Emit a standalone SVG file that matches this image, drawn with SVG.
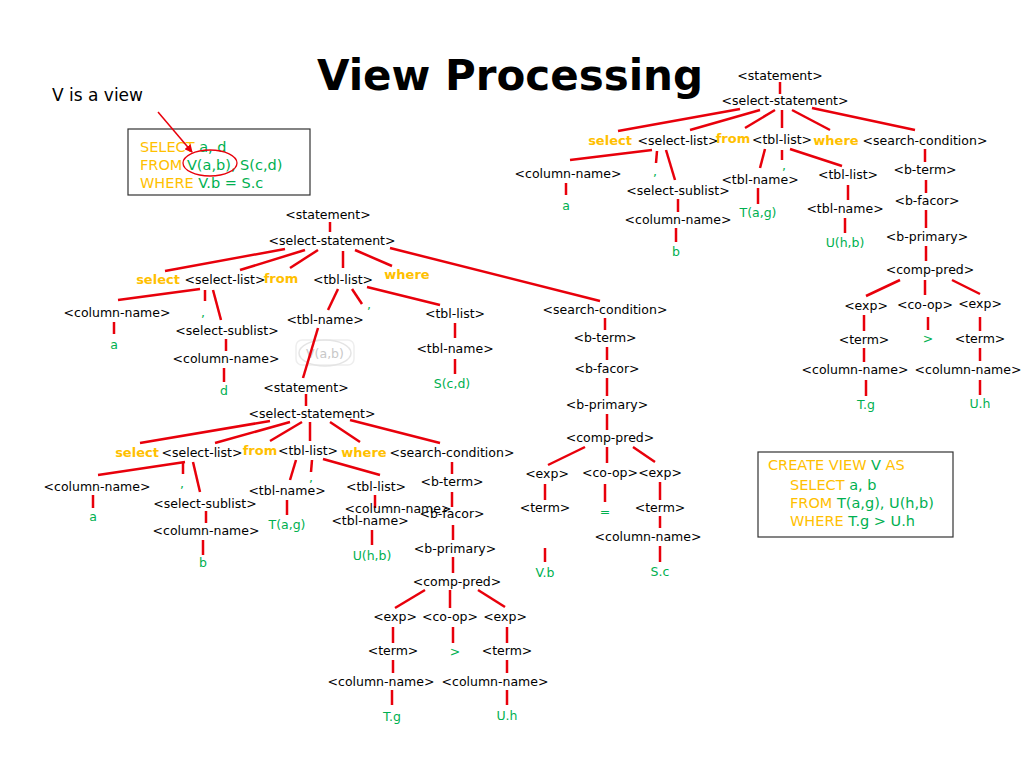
<svg xmlns="http://www.w3.org/2000/svg" width="1024" height="768" viewBox="0 0 1024 768">
<defs>
<style>
text{font-family:"DejaVu Sans","Liberation Sans",sans-serif;font-size:12.5px;fill:#000}
.n{text-anchor:middle}
.k{fill:#FFC000;font-weight:bold;font-size:13px}
.g{fill:#00B050}
.o{fill:#FFC000}
.c line{stroke:#e8000b;stroke-width:2.5}
.b{font-size:14.5px;font-family:"DejaVu Sans","Liberation Sans",sans-serif}
</style>
<marker id="ah" markerWidth="8" markerHeight="8" refX="7" refY="4" orient="auto" markerUnits="userSpaceOnUse"><path d="M0,0L8,4L0,8z" fill="#e8000b"/></marker>
</defs>
<rect width="1024" height="768" fill="#fff"/>
<text x="510" y="90" class="n" style="font-size:42px;font-weight:bold;font-family:'DejaVu Sans',sans-serif">View Processing</text>
<text x="52" y="101" style="font-size:17px;font-family:'DejaVu Sans',sans-serif">V is a view</text>
<g id="query1">
<rect x="128" y="129" width="182" height="66" fill="none" stroke="#333" stroke-width="1.2"/>
<text x="140" y="152" class="b"><tspan class="o">SELECT</tspan><tspan class="g"> a, d</tspan></text>
<text x="140" y="170" class="b"><tspan class="o">FROM </tspan><tspan class="g">V(a,b), S(c,d)</tspan></text>
<text x="140" y="188" class="b"><tspan class="o">WHERE </tspan><tspan class="g">V.b = S.c</tspan></text>
<ellipse cx="210" cy="163" rx="27" ry="13" fill="none" stroke="#e8000b" stroke-width="1.3"/>
<line x1="158" y1="112" x2="192" y2="152" stroke="#e8000b" stroke-width="1.5" marker-end="url(#ah)"/>
</g>
<g id="query2">
<rect x="758" y="452" width="195" height="85" fill="none" stroke="#333" stroke-width="1.2"/>
<text x="768" y="470" class="b"><tspan class="o">CREATE VIEW </tspan><tspan class="g">V</tspan><tspan class="o"> AS</tspan></text>
<text x="790" y="490" class="b"><tspan class="o">SELECT </tspan><tspan class="g">a, b</tspan></text>
<text x="790" y="508" class="b"><tspan class="o">FROM </tspan><tspan class="g">T(a,g), U(h,b)</tspan></text>
<text x="790" y="526" class="b"><tspan class="o">WHERE </tspan><tspan class="g">T.g &gt; U.h</tspan></text>
</g>
<g id="faded">
<rect x="296" y="340" width="58" height="25" rx="6" fill="none" stroke="#eee" stroke-width="1.5"/>
<ellipse cx="325" cy="353" rx="26" ry="13" fill="none" stroke="#e4e4e4" stroke-width="1.5"/>
<text x="325" y="358" class="n" style="fill:#c8c8c8">V(a,b)</text>
</g>
<g id="connectors" class="c">
<line x1="780" y1="82" x2="780" y2="94"/>
<line x1="740" y1="109" x2="618" y2="131"/>
<line x1="760" y1="110" x2="690" y2="130"/>
<line x1="775" y1="110" x2="745" y2="128"/>
<line x1="782" y1="110" x2="782" y2="128"/>
<line x1="792" y1="110" x2="830" y2="130"/>
<line x1="812" y1="108" x2="915" y2="130"/>
<line x1="652" y1="150" x2="570" y2="160"/>
<line x1="657" y1="151" x2="656" y2="163"/>
<line x1="666" y1="150" x2="675" y2="180"/>
<line x1="765" y1="149" x2="760" y2="168"/>
<line x1="782" y1="150" x2="782" y2="160"/>
<line x1="790" y1="149" x2="842" y2="166"/>
<line x1="925" y1="149" x2="925" y2="162"/>
<line x1="566" y1="183" x2="566" y2="195"/>
<line x1="678" y1="199" x2="678" y2="212"/>
<line x1="758" y1="188" x2="758" y2="204"/>
<line x1="848" y1="185" x2="848" y2="200"/>
<line x1="926" y1="180" x2="926" y2="193"/>
<line x1="676" y1="228" x2="676" y2="242"/>
<line x1="845" y1="218" x2="845" y2="233"/>
<line x1="926" y1="210" x2="926" y2="228"/>
<line x1="926" y1="246" x2="926" y2="261"/>
<line x1="900" y1="280" x2="866" y2="296"/>
<line x1="925" y1="280" x2="925" y2="295"/>
<line x1="952" y1="280" x2="980" y2="294"/>
<line x1="864" y1="315" x2="864" y2="331"/>
<line x1="928" y1="317" x2="928" y2="330"/>
<line x1="980" y1="317" x2="980" y2="331"/>
<line x1="864" y1="348" x2="864" y2="362"/>
<line x1="980" y1="348" x2="980" y2="361"/>
<line x1="866" y1="380" x2="866" y2="396"/>
<line x1="980" y1="380" x2="980" y2="395"/>
<line x1="330" y1="222" x2="330" y2="232"/>
<line x1="285" y1="249" x2="165" y2="271"/>
<line x1="305" y1="250" x2="240" y2="270"/>
<line x1="318" y1="250" x2="290" y2="268"/>
<line x1="343" y1="251" x2="343" y2="268"/>
<line x1="355" y1="250" x2="392" y2="266"/>
<line x1="390" y1="248" x2="600" y2="301"/>
<line x1="200" y1="289" x2="118" y2="300"/>
<line x1="205" y1="290" x2="205" y2="301"/>
<line x1="213" y1="290" x2="221" y2="320"/>
<line x1="114" y1="322" x2="114" y2="334"/>
<line x1="226" y1="339" x2="226" y2="351"/>
<line x1="224" y1="368" x2="224" y2="382"/>
<line x1="338" y1="289" x2="328" y2="310"/>
<line x1="352" y1="289" x2="362" y2="304"/>
<line x1="367" y1="287" x2="440" y2="305"/>
<line x1="455" y1="323" x2="455" y2="338"/>
<line x1="455" y1="359" x2="455" y2="374"/>
<line x1="318" y1="328" x2="303" y2="378"/>
<line x1="306" y1="394" x2="306" y2="406"/>
<line x1="605" y1="318" x2="605" y2="330"/>
<line x1="607" y1="347" x2="607" y2="360"/>
<line x1="607" y1="378" x2="607" y2="396"/>
<line x1="607" y1="414" x2="607" y2="430"/>
<line x1="585" y1="447" x2="548" y2="465"/>
<line x1="607" y1="447" x2="607" y2="463"/>
<line x1="633" y1="447" x2="655" y2="462"/>
<line x1="545" y1="484" x2="545" y2="500"/>
<line x1="605" y1="484" x2="605" y2="502"/>
<line x1="660" y1="482" x2="660" y2="500"/>
<line x1="545" y1="548" x2="545" y2="562"/>
<line x1="660" y1="516" x2="660" y2="528"/>
<line x1="660" y1="546" x2="660" y2="562"/>
<line x1="270" y1="421" x2="140" y2="443"/>
<line x1="290" y1="422" x2="215" y2="443"/>
<line x1="302" y1="422" x2="270" y2="441"/>
<line x1="310" y1="422" x2="310" y2="441"/>
<line x1="330" y1="422" x2="360" y2="442"/>
<line x1="350" y1="420" x2="440" y2="443"/>
<line x1="185" y1="462" x2="98" y2="475"/>
<line x1="183" y1="462" x2="183" y2="474"/>
<line x1="193" y1="462" x2="200" y2="492"/>
<line x1="93" y1="495" x2="93" y2="508"/>
<line x1="206" y1="511" x2="206" y2="523"/>
<line x1="203" y1="540" x2="203" y2="555"/>
<line x1="296" y1="460" x2="290" y2="480"/>
<line x1="312" y1="460" x2="311" y2="472"/>
<line x1="323" y1="459" x2="380" y2="475"/>
<line x1="287" y1="500" x2="287" y2="515"/>
<line x1="375" y1="495" x2="375" y2="508"/>
<line x1="372" y1="530" x2="372" y2="545"/>
<line x1="452" y1="462" x2="452" y2="474"/>
<line x1="452" y1="492" x2="452" y2="507"/>
<line x1="453" y1="525" x2="453" y2="540"/>
<line x1="453" y1="557" x2="453" y2="573"/>
<line x1="425" y1="590" x2="395" y2="608"/>
<line x1="450" y1="590" x2="450" y2="608"/>
<line x1="478" y1="590" x2="505" y2="607"/>
<line x1="393" y1="627" x2="393" y2="643"/>
<line x1="453" y1="627" x2="453" y2="643"/>
<line x1="507" y1="627" x2="507" y2="643"/>
<line x1="393" y1="660" x2="393" y2="673"/>
<line x1="507" y1="660" x2="507" y2="673"/>
<line x1="392" y1="690" x2="392" y2="705"/>
<line x1="507" y1="690" x2="507" y2="705"/>
</g>
<g id="tree-view">
<text x="780" y="80" class="n">&lt;statement&gt;</text>
<text x="785" y="105" class="n">&lt;select-statement&gt;</text>
<text x="610" y="145" class="n k">select</text>
<text x="678" y="145" class="n">&lt;select-list&gt;</text>
<text x="733" y="143" class="n k">from</text>
<text x="782" y="144" class="n">&lt;tbl-list&gt;</text>
<text x="836" y="145" class="n k">where</text>
<text x="925" y="145" class="n">&lt;search-condition&gt;</text>
<text x="568" y="178" class="n">&lt;column-name&gt;</text>
<text x="655" y="176" class="n g">,</text>
<text x="678" y="195" class="n">&lt;select-sublist&gt;</text>
<text x="760" y="184" class="n">&lt;tbl-name&gt;</text>
<text x="784" y="170" class="n g">,</text>
<text x="848" y="179" class="n">&lt;tbl-list&gt;</text>
<text x="925" y="174" class="n">&lt;b-term&gt;</text>
<text x="566" y="210" class="n g">a</text>
<text x="678" y="224" class="n">&lt;column-name&gt;</text>
<text x="758" y="217" class="n g">T(a,g)</text>
<text x="845" y="213" class="n">&lt;tbl-name&gt;</text>
<text x="927" y="205" class="n">&lt;b-facor&gt;</text>
<text x="676" y="256" class="n g">b</text>
<text x="845" y="247" class="n g">U(h,b)</text>
<text x="927" y="241" class="n">&lt;b-primary&gt;</text>
<text x="930" y="274" class="n">&lt;comp-pred&gt;</text>
<text x="866" y="310" class="n">&lt;exp&gt;</text>
<text x="925" y="309" class="n">&lt;co-op&gt;</text>
<text x="980" y="308" class="n">&lt;exp&gt;</text>
<text x="864" y="344" class="n">&lt;term&gt;</text>
<text x="928" y="343" class="n g">&gt;</text>
<text x="980" y="343" class="n">&lt;term&gt;</text>
<text x="855" y="374" class="n">&lt;column-name&gt;</text>
<text x="968" y="374" class="n">&lt;column-name&gt;</text>
<text x="866" y="409" class="n g">T.g</text>
<text x="980" y="408" class="n g">U.h</text>
</g>
<g id="tree-query">
<text x="328" y="219" class="n">&lt;statement&gt;</text>
<text x="332" y="245" class="n">&lt;select-statement&gt;</text>
<text x="158" y="284" class="n k">select</text>
<text x="225" y="284" class="n">&lt;select-list&gt;</text>
<text x="281" y="283" class="n k">from</text>
<text x="343" y="284" class="n">&lt;tbl-list&gt;</text>
<text x="407" y="279" class="n k">where</text>
<text x="605" y="314" class="n">&lt;search-condition&gt;</text>
<text x="117" y="317" class="n">&lt;column-name&gt;</text>
<text x="203" y="317" class="n g">,</text>
<text x="227" y="335" class="n">&lt;select-sublist&gt;</text>
<text x="114" y="349" class="n g">a</text>
<text x="226" y="363" class="n">&lt;column-name&gt;</text>
<text x="224" y="395" class="n g">d</text>
<text x="325" y="324" class="n">&lt;tbl-name&gt;</text>
<text x="369" y="309" class="n g">,</text>
<text x="455" y="318" class="n">&lt;tbl-list&gt;</text>
<text x="455" y="353" class="n">&lt;tbl-name&gt;</text>
<text x="452" y="388" class="n g">S(c,d)</text>
<text x="306" y="392" class="n">&lt;statement&gt;</text>
<text x="312" y="418" class="n">&lt;select-statement&gt;</text>
<text x="605" y="342" class="n">&lt;b-term&gt;</text>
<text x="607" y="373" class="n">&lt;b-facor&gt;</text>
<text x="607" y="409" class="n">&lt;b-primary&gt;</text>
<text x="610" y="442" class="n">&lt;comp-pred&gt;</text>
<text x="547" y="478" class="n">&lt;exp&gt;</text>
<text x="610" y="477" class="n">&lt;co-op&gt;</text>
<text x="660" y="477" class="n">&lt;exp&gt;</text>
<text x="545" y="512" class="n">&lt;term&gt;</text>
<text x="605" y="516" class="n g">=</text>
<text x="660" y="512" class="n">&lt;term&gt;</text>
<text x="545" y="577" class="n g">V.b</text>
<text x="648" y="541" class="n">&lt;column-name&gt;</text>
<text x="660" y="576" class="n g">S.c</text>
</g>
<g id="tree-sub">
<text x="137" y="457" class="n k">select</text>
<text x="202" y="457" class="n">&lt;select-list&gt;</text>
<text x="260" y="455" class="n k">from</text>
<text x="308" y="455" class="n">&lt;tbl-list&gt;</text>
<text x="364" y="457" class="n k">where</text>
<text x="452" y="457" class="n">&lt;search-condition&gt;</text>
<text x="97" y="491" class="n">&lt;column-name&gt;</text>
<text x="182" y="488" class="n g">,</text>
<text x="205" y="508" class="n">&lt;select-sublist&gt;</text>
<text x="93" y="521" class="n g">a</text>
<text x="206" y="535" class="n">&lt;column-name&gt;</text>
<text x="203" y="567" class="n g">b</text>
<text x="287" y="495" class="n">&lt;tbl-name&gt;</text>
<text x="311" y="482" class="n g">,</text>
<text x="376" y="491" class="n">&lt;tbl-list&gt;</text>
<text x="287" y="529" class="n g">T(a,g)</text>
<text x="398" y="513" class="n">&lt;column-name&gt;</text>
<text x="370" y="525" class="n">&lt;tbl-name&gt;</text>
<text x="372" y="560" class="n g">U(h,b)</text>
<text x="452" y="486" class="n">&lt;b-term&gt;</text>
<text x="452" y="518" class="n">&lt;b-facor&gt;</text>
<text x="455" y="553" class="n">&lt;b-primary&gt;</text>
<text x="457" y="586" class="n">&lt;comp-pred&gt;</text>
<text x="395" y="621" class="n">&lt;exp&gt;</text>
<text x="450" y="621" class="n">&lt;co-op&gt;</text>
<text x="505" y="621" class="n">&lt;exp&gt;</text>
<text x="393" y="655" class="n">&lt;term&gt;</text>
<text x="455" y="656" class="n g">&gt;</text>
<text x="507" y="655" class="n">&lt;term&gt;</text>
<text x="381" y="686" class="n">&lt;column-name&gt;</text>
<text x="495" y="686" class="n">&lt;column-name&gt;</text>
<text x="392" y="721" class="n g">T.g</text>
<text x="507" y="720" class="n g">U.h</text>
</g>
</svg>
